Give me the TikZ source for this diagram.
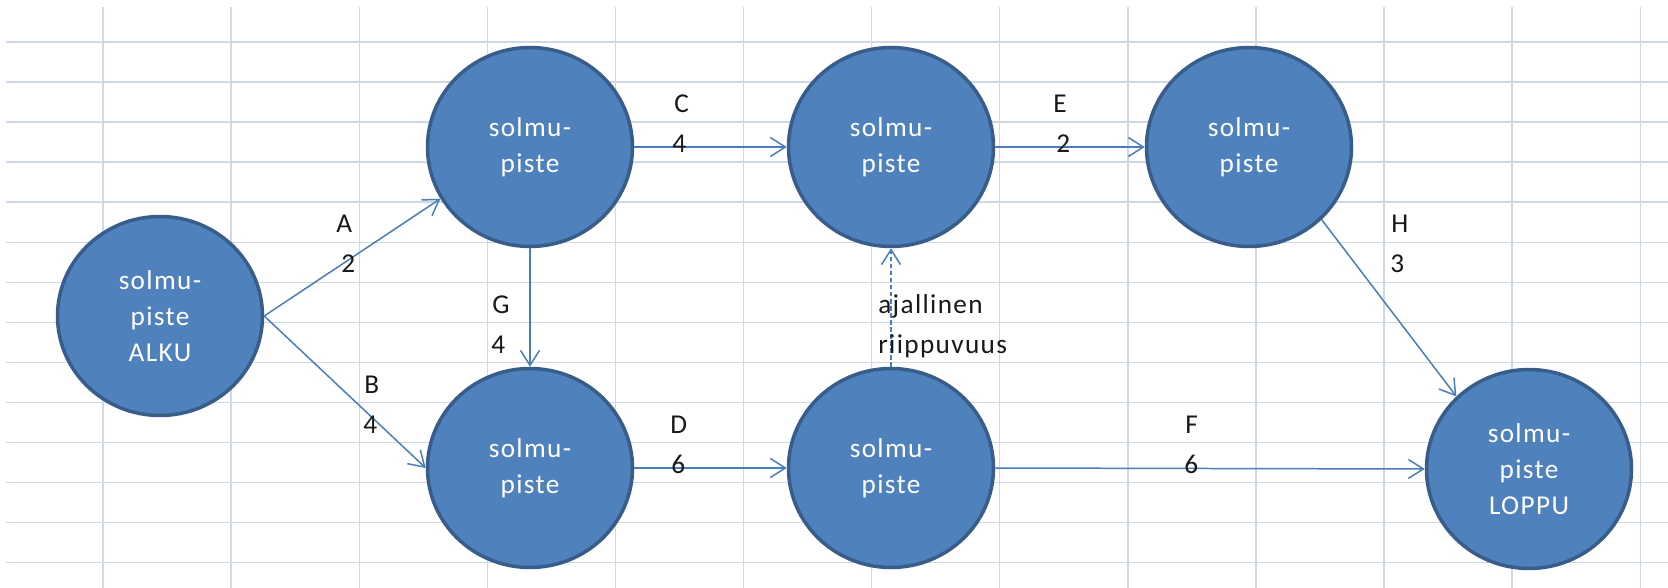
\documentclass[tikz,border=0pt]{standalone}
\usepackage{fontspec}
\setmainfont{Carlito}[LetterSpace=5]
\usetikzlibrary{arrows.meta,shapes.geometric}
\definecolor{nodefill}{HTML}{4F81BD}
\definecolor{nodeline}{HTML}{385D8A}
\definecolor{edgecol}{HTML}{4A7EBB}
\definecolor{gridcol}{HTML}{D0D7E5}
\begin{document}
\begin{tikzpicture}[x=0.02cm,y=-0.02cm,
  event/.style={ellipse, draw=nodeline, line width=2pt, fill=nodefill,
    minimum width=4.1cm, minimum height=3.98cm, inner sep=0pt,
    text=white, align=center, font=\fontsize{15.5pt}{20.5pt}\selectfont},
  act/.style={-{Straight Barb[length=0.3cm,width=0.38cm]}, draw=edgecol, line width=0.85pt},
  lag/.style={act, dash pattern=on 2.5pt off 1.5pt},
  lbl/.style={anchor=base west, inner sep=0pt, text=black!90,
    font=\fontsize{15.5pt}{20.5pt}\selectfont}
]
% page and spreadsheet grid
\fill[white] (0,0) rectangle (1668,588);
\useasboundingbox (0,0) rectangle (1668,588);
\foreach \k in {0,...,12}
  \draw[gridcol, line width=0.8pt] ({103+128.1*\k},7) -- ({103+128.1*\k},588);
\foreach \k in {0,...,13}
  \draw[gridcol, line width=0.8pt] (6,{42+40.05*\k}) -- (1668,{42+40.05*\k});

% events
\node[event] (n0) at (160,316)  {solmu-\\piste\\ALKU};
\node[event] (n1) at (530,147)  {solmu-\\piste};
\node[event] (n2) at (891,147)  {solmu-\\piste};
\node[event] (n3) at (1249,147) {solmu-\\piste};
\node[event] (n4) at (530,468)  {solmu-\\piste};
\node[event] (n5) at (891,468)  {solmu-\\piste};
\node[event] (n6) at (1529,469) {solmu-\\piste\\LOPPU};

% activities
\draw[act] (n0.east) -- (n1.210);
\draw[act] (n0.east) -- (n4.west);
\draw[act] (n1.east) -- (n2.west);
\draw[act] (n2.east) -- (n3.west);
\draw[act] (n4.east) -- (n5.west);
\draw[act] (n5.east) -- (n6.west);
\draw[act] (n1.south) -- (n4.north);
\draw[act] (n3.-45) -- (n6.135);
\draw[lag] (n5.north) -- (n2.south);

% activity names and durations
\node[lbl] (la) at (336,232.5) {A};
\node[lbl] (da) at (341,273) {2};
\node[lbl] (lb) at (364,393.5) {B};
\node[lbl] (db) at (363,433.5) {4};
\node[lbl] (lc) at (674,112.5) {C};
\node[lbl] (dc) at (672,152.5) {4};
\node[lbl] (ld) at (670,433.5) {D};
\node[lbl] (dd) at (671,473.5) {6};
\node[lbl] (le) at (1053,112.5) {E};
\node[lbl] (de) at (1056,152.5) {2};
\node[lbl] (lf) at (1185,433.5) {F};
\node[lbl] (df) at (1184,473.5) {6};
\node[lbl] (lg) at (492,313.5) {G};
\node[lbl] (dg) at (491,353.5) {4};
\node[lbl] (lh) at (1391,232.5) {H};
\node[lbl] (dh) at (1390,273) {3};
\node[lbl] (lt1) at (878,313.5) {ajallinen};
\node[lbl] (lt2) at (878,353.5) {riippuvuus};
\end{tikzpicture}
\end{document}
